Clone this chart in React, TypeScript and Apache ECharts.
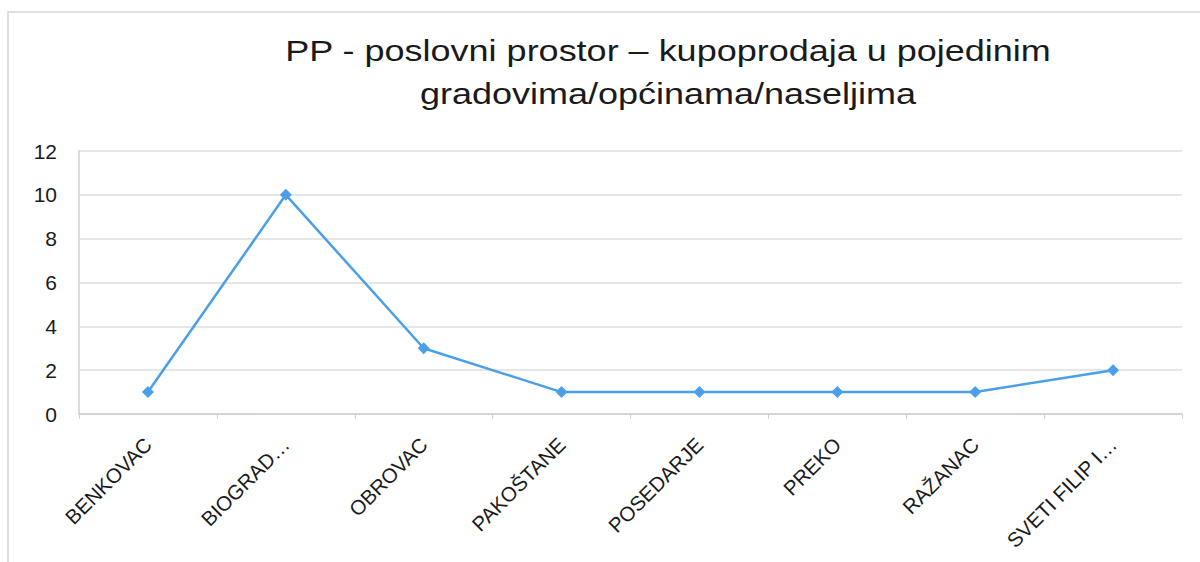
import React, { useEffect, useRef } from "react";
import * as echarts from "echarts";

const categories = ["BENKOVAC", "BIOGRAD…", "OBROVAC", "PAKOŠTANE", "POSEDARJE", "PREKO", "RAŽANAC", "SVETI FILIP I…"];
const values = [1, 10, 3, 1, 1, 1, 1, 2];
const titleLines = ["PP - poslovni prostor – kupoprodaja u pojedinim", "gradovima/općinama/naseljima"];

export default function App() {
  const ref = useRef<HTMLDivElement>(null);
  useEffect(() => {
    document.body.style.margin = "0";
    const chart = echarts.init(ref.current!, null, { renderer: "svg" });
    const titleStyle = {
      fontFamily: "Liberation Sans",
      fontSize: 30,
      fill: "#1a1a1a",
      textAlign: "center",
      textVerticalAlign: "top",
    };
    chart.setOption({
      animation: false,
      backgroundColor: "#ffffff",
      graphic: [
        {
          type: "rect",
          shape: { x: 8, y: 12, width: 1200, height: 560 },
          style: { fill: "none", stroke: "#d4d4d4", lineWidth: 1.5 },
          silent: true,
        },
        {
          type: "text",
          x: 668,
          y: 36,
          scaleX: 1.2,
          style: { ...titleStyle, text: titleLines[0] },
        },
        {
          type: "text",
          x: 668,
          y: 79,
          scaleX: 1.2,
          style: { ...titleStyle, text: titleLines[1] },
        },
      ],
      grid: { left: 79, right: 18, top: 151, bottom: 148 },
      xAxis: {
        type: "category",
        data: categories,
        boundaryGap: true,
        axisLine: { lineStyle: { color: "#d0d0d0", width: 1.5 } },
        axisTick: { show: true, alignWithLabel: false, length: 5, lineStyle: { color: "#d0d0d0" } },
        axisLabel: {
          rotate: 45,
          interval: 0,
          fontFamily: "Liberation Sans",
          fontSize: 20.5,
          color: "#1a1a1a",
          margin: 27,
        },
      },
      yAxis: {
        type: "value",
        min: 0,
        max: 12,
        interval: 2,
        axisLine: { show: true, lineStyle: { color: "#d0d0d0", width: 1.5 } },
        axisTick: { show: false },
        splitLine: { lineStyle: { color: "#dedede", width: 1.5 } },
        axisLabel: {
          fontFamily: "Liberation Sans",
          fontSize: 21,
          color: "#1a1a1a",
          margin: 22,
        },
      },
      series: [
        {
          type: "line",
          data: values,
          symbol: "diamond",
          symbolSize: 12,
          lineStyle: { color: "#4a9fe8", width: 2.5 },
          itemStyle: { color: "#4a9fe8" },
        },
      ],
    });
    return () => chart.dispose();
  }, []);
  return <div ref={ref} style={{ width: 1200, height: 562 }} />;
}
